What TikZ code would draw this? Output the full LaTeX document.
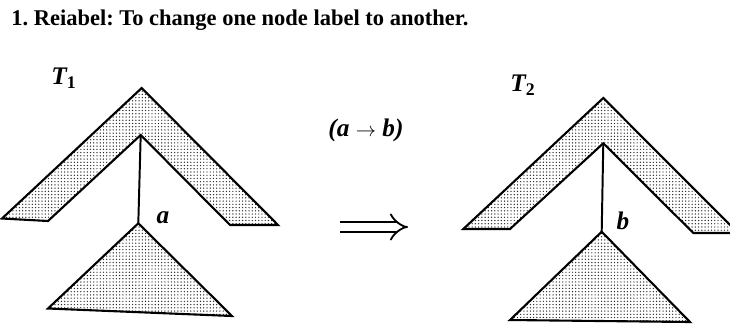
\documentclass[tikz,border=0pt]{standalone}
\usepackage{fontspec}
\setmainfont{Liberation Serif}
\usepackage{tikz}
\usetikzlibrary{arrows.meta,positioning,patterns.meta}
\frenchspacing
\tikzset{
    tree/.style={draw,line width=1.5pt,line join=miter,pattern={Dots[distance=2.3pt,radius=0.5pt]},pattern color=black!85},
    edge/.style={line width=1.4pt},
    lbl/.style={font=\fontsize{18}{21}\selectfont\bfseries\itshape,inner sep=1pt},
    title/.style={font=\fontsize{16}{19}\selectfont\bfseries,anchor=west,inner sep=0pt},
    implies/.style={double,double distance=5.5pt,line width=1.3pt,-{Implies[length=5mm]}}
}
\begin{document}
\begin{tikzpicture}[x=0.025cm,y=-0.025cm]
    \clip (0,0) rectangle (730,324);
    \node[title] (head) at (11,20) {1. Reiabel: To change one node label to another.};
    % T1
    \coordinate (top1) at (141.7,88);
    \coordinate (in1) at (140.7,135);
    \coordinate (sub1) at (138.3,223.3);
    \draw[tree] (top1) -- (278,225) -- (230,225) -- (in1) -- (48,221) -- (2,218.5) -- cycle;
    \draw[tree] (sub1) -- (232,316) -- (48,308.5) -- cycle;
    \draw[edge] (in1) -- (sub1);
    \node[lbl] (t1) at (64,78) {T\textsubscript{\upshape1}};
    \node[lbl] (la) at (163,218) {a};
    % T2
    \coordinate (top2) at (603.3,98);
    \coordinate (in2) at (603.3,143.3);
    \coordinate (sub2) at (601.7,231.7);
    \draw[tree] (top2) -- (738,233) -- (693.3,233) -- (in2) -- (510,229) -- (463.3,229) -- cycle;
    \draw[tree] (sub2) -- (690,322) -- (510,320) -- cycle;
    \draw[edge] (in2) -- (sub2);
    \node[lbl] (t2) at (523,85) {T\textsubscript{\upshape2}};
    \node[lbl] (lb) at (623,221) {b};
    % rule
    \node[lbl] (rule) at (366,130) {(a {\normalfont\fontsize{14}{16}\selectfont$\rightarrow$} b)};
    \coordinate (from) at (340,227);
    \coordinate (to) at (408,227);
    \draw[implies] (from) -- (to);
\end{tikzpicture}
\end{document}
